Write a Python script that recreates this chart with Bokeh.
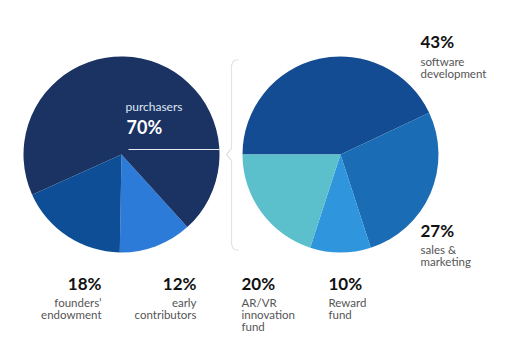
import math
from bokeh.plotting import figure
from bokeh.models import Range1d
from bokeh.core.properties import value
from bokeh.embed import file_html
from bokeh.resources import INLINE

# ---- data ----
left_labels = ["early contributors", "purchasers", "founders’ endowment"]
left_values = [12, 70, 18]
left_colors = ["#2d7bd9", "#1a3363", "#0e4e96"]

right_labels = ["software development", "sales & marketing", "Reward fund", "AR/VR innovation fund"]
right_values = [43, 27, 10, 20]
right_colors = ["#134c93", "#1a6cb4", "#2f95dd", "#5bbfcc"]

W, H = 506, 356
p = figure(width=W, height=H, x_range=Range1d(0, W), y_range=Range1d(0, H),
           output_backend="svg", toolbar_location=None, min_border=0)
p.axis.visible = False
p.grid.visible = False
p.outline_line_color = None
p.background_fill_color = "white"

def Y(v):
    return H - v

R = 98
LC = (121, 154)
RC = (340, 154)

# left pie: anticlockwise from -91 deg
start = -91.0
ls, le = [], []
for v in left_values:
    ls.append(math.radians(start))
    start += v * 3.6
    le.append(math.radians(start))
p.wedge(x=[LC[0]] * 3, y=[Y(LC[1])] * 3, radius=R, start_angle=ls, end_angle=le,
        fill_color=left_colors, line_color=None)

# right pie: clockwise from 180 deg
cum = 0
rs, re_ = [], []
for v in right_values:
    re_.append(math.radians(180 - cum * 3.6))
    cum += v
    rs.append(math.radians(180 - cum * 3.6))
p.wedge(x=[RC[0]] * 4, y=[Y(RC[1])] * 4, radius=R, start_angle=rs, end_angle=re_,
        fill_color=right_colors, line_color=None)

# leader line in left pie
p.line(x=[LC[0] + 7, LC[0] + R], y=[Y(LC[1] - 5)] * 2, line_color="#e8ecf4", line_width=1)

# curly brace
bx = 231
bt, bb = LC[1] - R + 3, LC[1] + R - 2
bxs = [bx + 7, bx + 2, bx, bx, bx - 5, bx, bx, bx + 2, bx + 7]
bys = [bt, bt + 1.5, bt + 6, LC[1] - 6, LC[1], LC[1] + 6, bb - 6, bb - 1.5, bb]
p.line(x=bxs, y=[Y(v) for v in bys], line_color="#e3e3e3", line_width=1.2)

FONT = "Lato"
def pct_text(x, y, txt, align="left", color="#111111", size="17px"):
    p.text(x=[x], y=[Y(y)], text=[txt], text_font=value(FONT), text_font_size=size,
           text_font_style="bold", text_color=color, text_align=align, text_baseline="middle")

def small_lines(x, y, lines, align="left", color="#555555", size="11.5px", step=12.4):
    p.text(x=[x] * len(lines), y=[Y(y + i * step) for i in range(len(lines))], text=lines,
           text_font=value(FONT), text_font_size=size, text_color=color,
           text_align=align, text_baseline="middle")

def split(label):
    if label == "sales & marketing":
        return ["sales &", "marketing"]
    return label.split(" ")

# purchasers inside pie
small_lines(125, 105.5, [left_labels[1]], color="#dfe6f2", size="12px")
pct_text(126, 126.5, f"{left_values[1]}%", color="#ffffff", size="18px")

# right labels
pct_text(420, 41, f"{right_values[0]}%")
small_lines(420, 60.5, split(right_labels[0]))
pct_text(420, 230, f"{right_values[1]}%")
small_lines(420, 249, split(right_labels[1]))

# bottom labels
pct_text(101, 283, f"{left_values[2]}%", align="right")
small_lines(101, 301.5, split(left_labels[2]), align="right")
pct_text(196, 283, f"{left_values[0]}%", align="right")
small_lines(196, 301.5, split(left_labels[0]), align="right")
pct_text(241, 283, f"{right_values[3]}%")
small_lines(241, 301.5, split(right_labels[3]))
pct_text(328, 283, f"{right_values[2]}%")
small_lines(328, 301.5, split(right_labels[2]))

open("out.html", "w").write(file_html(p, INLINE))
